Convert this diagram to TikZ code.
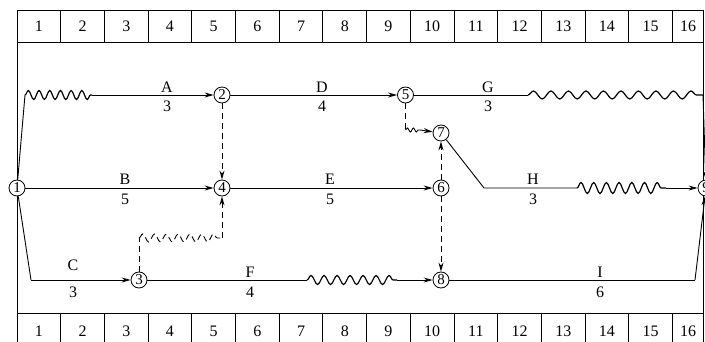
\documentclass[tikz,border=0pt]{standalone}
\usepackage{fontspec}
\setmainfont{Liberation Serif}
\usetikzlibrary{arrows.meta,decorations.pathmorphing}
\begin{document}
\begin{tikzpicture}[x=1pt,y=-1pt,line width=0.9pt,
  evt/.style={circle,draw,fill=white,minimum size=16pt,inner sep=0pt,line width=0.8pt,font=\fontsize{15}{15}\selectfont},
  arr/.style={-{Stealth[length=9pt,width=5pt]}},
  dsh/.style={dash pattern=on 6pt off 4pt},
  wav/.style={decorate,line width=1.2pt,decoration={snake,segment length=#1,amplitude=4.5pt}},
  lab/.style={font=\fontsize{16}{16}\selectfont,inner sep=0pt}]
\useasboundingbox (0,0) rectangle (705,342);
% frame and time scales
\draw (17,10) rectangle (703,350);
\draw (17,42) -- (703,42);
\draw (17,313) -- (703,313);
\foreach \i in {1,...,15} {
  \draw ({17+43.7*\i},10) -- ++(0,32);
  \draw ({17+43.7*\i},313) -- ++(0,37);
  \node[lab] at ({17+43.7*\i-21.85},26) {\i};
  \node[lab] at ({17+43.7*\i-21.85},331) {\i};
}
\node[lab] at (688,26) {16};
\node[lab] at (688,331) {16};
% events
\node[evt] (n1) at (17,188) {1};
\node[evt] (n2) at (222,95) {2};
\node[evt] (n3) at (139,280) {3};
\node[evt] (n4) at (222,188) {4};
\node[evt] (n5) at (405.5,95) {5};
\node[evt] (n6) at (441,188) {6};
\node[evt] (n7) at (441,133) {7};
\node[evt] (n8) at (441,280) {8};
\node[evt] (n9) at (706,188) {9};
% coordinates
\coordinate (a1) at (25,95);
\coordinate (a2) at (92,95);
\coordinate (c1) at (31,280);
\coordinate (f1) at (307,280);
\coordinate (f2) at (397,280);
\coordinate (g1) at (528,95);
\coordinate (g2) at (703,95);
\coordinate (h1) at (484,188);
\coordinate (h2) at (577,188);
\coordinate (h3) at (666,188);
\coordinate (i1) at (695,280);
\coordinate (k1) at (405.5,130);
\coordinate (k2) at (420,130);
\coordinate (m1) at (139,238);
\coordinate (m2) at (222,238);
% A
\draw (n1) -- (a1);
\draw[wav=10.7] (a1) -- (a2);
\draw[arr] (a2) -- (n2);
\node[lab] at (167,87) {A};
\node[lab] at (167,106) {3};
% B
\draw[arr] (n1) -- (n4);
\node[lab] at (125,179) {B};
\node[lab] at (125,199) {5};
% C
\draw (n1) -- (c1);
\draw[arr] (c1) -- (n3);
\node[lab] at (73,265) {C};
\node[lab] at (73,292) {3};
% D
\draw[arr] (n2) -- (n5);
\node[lab] at (322,87) {D};
\node[lab] at (322,106) {4};
% E
\draw[arr] (n4) -- (n6);
\node[lab] at (330,179) {E};
\node[lab] at (330,199) {5};
% F
\draw (n3) -- (f1);
\draw[wav=13] (f1) -- (f2);
\draw[arr] (f2) -- (n8);
\node[lab] at (250,272) {F};
\node[lab] at (250,292) {4};
% G
\draw (n5) -- (g1);
\draw[decorate,line width=1.2pt,decoration={snake,segment length=17.5,amplitude=4pt}] (g1) -- (g2);
\draw[arr] (g2) -- (n9);
\node[lab] at (488,87) {G};
\node[lab] at (488,106) {3};
% H
\draw (n7) -- (h1) -- (h2);
\draw[decorate,line width=1.2pt,decoration={snake,segment length=12.7,amplitude=5.5pt}] (h2) -- (h3);
\draw[arr] (h3) -- (n9);
\node[lab] at (533,179) {H};
\node[lab] at (533,199) {3};
% I
\draw (n8) -- (i1);
\draw[arr] (i1) -- (n9);
\node[lab] at (600,272) {I};
\node[lab] at (600,292) {6};
% dummy activities
\draw[dsh,arr] (n2) -- (n4);
\draw[dsh,arr] (n6) -- (n7);
\draw[dsh,arr] (n6) -- (n8);
\draw[dsh] (n5) -- (k1);
\draw[decorate,decoration={snake,segment length=6,amplitude=2pt}] (k1) -- (k2);
\draw[arr] (k2) -- (n7);
\draw[dsh] (n3) -- (m1);
\draw[dsh,decorate,decoration={snake,segment length=11.8,amplitude=4pt}] (m1) -- (m2);
\draw[dsh,arr] (m2) -- (n4);
\end{tikzpicture}
\end{document}
